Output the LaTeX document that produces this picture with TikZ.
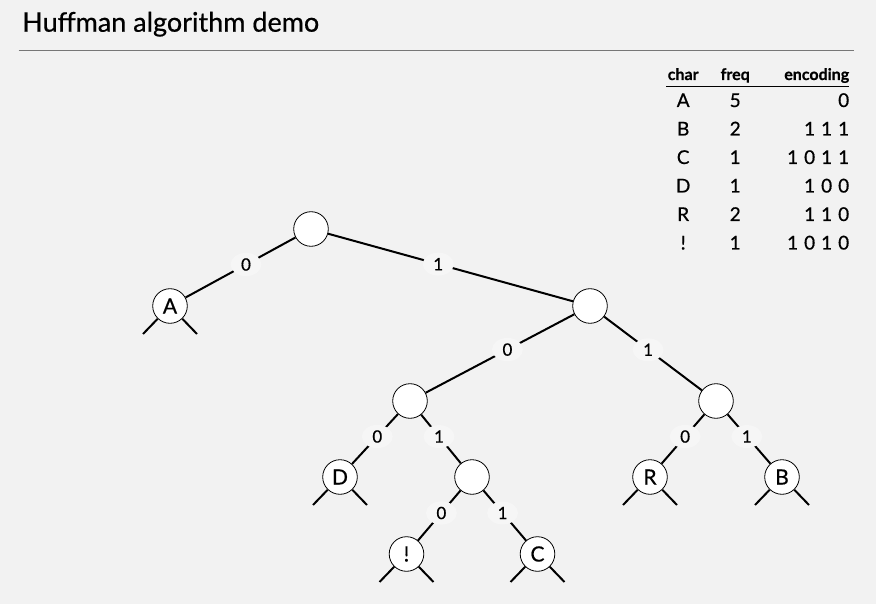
\documentclass[tikz,border=0pt]{standalone}
\usepackage{fontspec}
\setmainfont{Lato}
\newfontfamily\heavyfont{Lato}[FakeBold=0.6]
\usepackage{array}
\usetikzlibrary{shapes.geometric}
\definecolor{slidebg}{HTML}{F2F2F2}
\definecolor{labelbg}{HTML}{F6F6F6}
\definecolor{titlerule}{HTML}{777777}
\newcommand{\bitgap}{\hspace{6pt}}
\newcommand{\colhead}[1]{{\bfseries\fontsize{16}{17}\selectfont #1}}

\begin{document}
\begin{tikzpicture}[x=1pt,y=1pt,
level 1/.style={sibling distance=420pt, level distance=77pt},
level 2/.style={sibling distance=306pt, level distance=95pt},
level 3/.style={sibling distance=132pt, level distance=76pt},
level 4/.style={sibling distance=131pt, level distance=77pt},
  trienode/.style = {circle, draw, fill=white, line width=0.8pt,
    minimum size=34.6pt, inner sep=0pt, font=\heavyfont\fontsize{21}{24}\selectfont},
  stub/.style = {level distance=28pt, sibling distance=54pt},
  bit/.style = {ellipse, fill=labelbg, inner xsep=6pt, inner ysep=2pt, pos=0.45,
    font=\heavyfont\fontsize{17}{19}\selectfont},
  edge from parent/.style = {draw, line width=2pt}]
  \useasboundingbox (0,0) rectangle (876,-604);
  \fill[slidebg] (0,0) rectangle (876,-604);
  % title
  \node[anchor=base west, inner sep=0pt, font=\heavyfont\fontsize{27}{32}\selectfont] (title) at (22,-31.7) {Huffman algorithm demo};
  \draw[titlerule, line width=1.5pt] (18.7,-50.7) -- (854,-50.7);
  % code table
  \node[anchor=base west, inner sep=0pt, font=\heavyfont\fontsize{19}{28.5}\selectfont] (codetable) at (666,-80) {%
    \setlength{\tabcolsep}{0pt}\setlength{\arrayrulewidth}{1pt}%
    \begin{tabular}[t]{>{\centering\arraybackslash}p{34pt}>{\centering\arraybackslash}p{70pt}>{\raggedleft\arraybackslash}p{79pt}}
      \colhead{char} & \colhead{freq} & \colhead{encoding} \\[-2.5pt]
      \hline
      A & 5 & 0 \\
      B & 2 & 1\bitgap 1\bitgap 1 \\
      C & 1 & 1\bitgap 0\bitgap 1\bitgap 1 \\
      D & 1 & 1\bitgap 0\bitgap 0 \\
      R & 2 & 1\bitgap 1\bitgap 0 \\
      ! & 1 & 1\bitgap 0\bitgap 1\bitgap 0 \\
    \end{tabular}};
  % trie
  \node[trienode] (root) at (311,-229) {}
    child[xshift=69pt] {
      node[trienode] {A}
      child[stub] {coordinate}
      child[stub] {coordinate}
      edge from parent node[bit] {0}
    }
    child[xshift=69pt] {
      node[trienode] {}
      child[xshift=-27pt] {
        node[trienode] {}
        child[xshift=-4pt] {
          node[trienode] {D}
          child[stub] {coordinate}
          child[stub] {coordinate}
          edge from parent node[bit] {0}
        }
        child[xshift=-4pt] {
          node[trienode] {}
          child {
            node[trienode] {!}
            child[stub] {coordinate}
            child[stub] {coordinate}
            edge from parent node[bit] {0}
          }
          child {
            node[trienode] {C}
            child[stub] {coordinate}
            child[stub] {coordinate}
            edge from parent node[bit] {1}
          }
          edge from parent node[bit] {1}
        }
        edge from parent node[bit] {0}
      }
      child[xshift=-27pt] {
        node[trienode] {}
        child {
          node[trienode] {R}
          child[stub] {coordinate}
          child[stub] {coordinate}
          edge from parent node[bit] {0}
        }
        child {
          node[trienode] {B}
          child[stub] {coordinate}
          child[stub] {coordinate}
          edge from parent node[bit] {1}
        }
        edge from parent node[bit] {1}
      }
      edge from parent node[bit] {1}
    };
\end{tikzpicture}
\end{document}
